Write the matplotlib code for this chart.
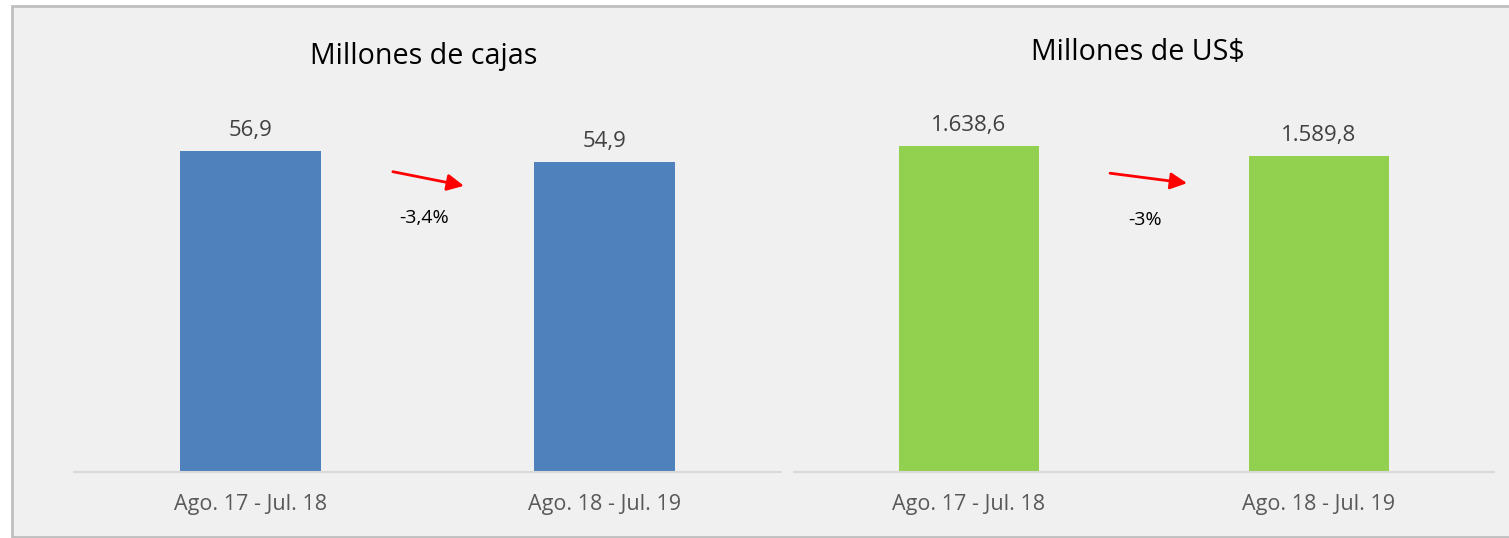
import matplotlib.pyplot as plt
from matplotlib.patches import Rectangle

# datos
periodos = ["Ago. 17 - Jul. 18", "Ago. 18 - Jul. 19"]
cajas = [56.9, 54.9]
dolares = [1638.6, 1589.8]
etiquetas_cajas = ["56,9", "54,9"]
etiquetas_dolares = ["1.638,6", "1.589,8"]
var_cajas = "-3,4%"
var_dolares = "-3%"

plt.rcParams['font.family'] = ['Open Sans', 'DejaVu Sans']

fig = plt.figure(figsize=(15.09, 5.38), dpi=100)
fig.patch.set_facecolor('white')

# fondo gris con borde
fig.add_artist(Rectangle((12 / 1509, 1 / 538), 1 - 12 / 1509 + 0.01, (532 - 1) / 538,
                         transform=fig.transFigure, facecolor='#f0f0f0',
                         edgecolor='#bfbfbf', linewidth=2, zorder=-5))


def panel(rect, values, labels, color, ymax, title, title_x, title_pad, arrow, pct):
    ax = fig.add_axes(rect)
    ax.set_facecolor('none')
    x = range(len(values))
    bars = ax.bar(x, values, width=0.4, color=color, zorder=2)
    ax.bar_label(bars, labels=labels, padding=7, fontsize=16, color='#404040')
    ax.set_xlim(-0.5, len(values) - 0.5)
    ax.set_ylim(0, ymax)
    ax.set_xticks(list(x))
    ax.set_xticklabels(periodos, fontsize=15.5, color='#595959')
    ax.tick_params(axis='x', length=0, pad=16)
    ax.set_yticks([])
    for s in ['top', 'left', 'right']:
        ax.spines[s].set_visible(False)
    ax.spines['bottom'].set_color('#d9d9d9')
    ax.spines['bottom'].set_linewidth(1.5)
    ax.set_title(title, fontsize=20.6, color='black', pad=title_pad, x=title_x)
    (x0, y0), (x1, y1), (tx, ty) = arrow
    ax.annotate('', xy=(x1, y1), xytext=(x0, y0),
                arrowprops=dict(arrowstyle='-|>', color='red', lw=2,
                                mutation_scale=25, shrinkA=0, shrinkB=0))
    ax.text(tx, ty, pct, fontsize=14, color='black', ha='center', va='center')
    return ax


panel([74 / 1509, 66 / 538, 707 / 1509, 372 / 538], cajas, etiquetas_cajas,
      '#4f81bd', 65.9, 'Millones de cajas', 0.495, 26,
      ((0.402, 53.2), (0.603, 50.7), (0.49, 45.0)), var_cajas)
panel([794 / 1509, 66 / 538, 700 / 1509, 372 / 538], dolares, etiquetas_dolares,
      '#92d050', 1870, 'Millones de US$', 0.491, 29,
      ((0.403, 1502), (0.623, 1452), (0.503, 1266)), var_dolares)

fig.savefig('out.png', dpi=100)
